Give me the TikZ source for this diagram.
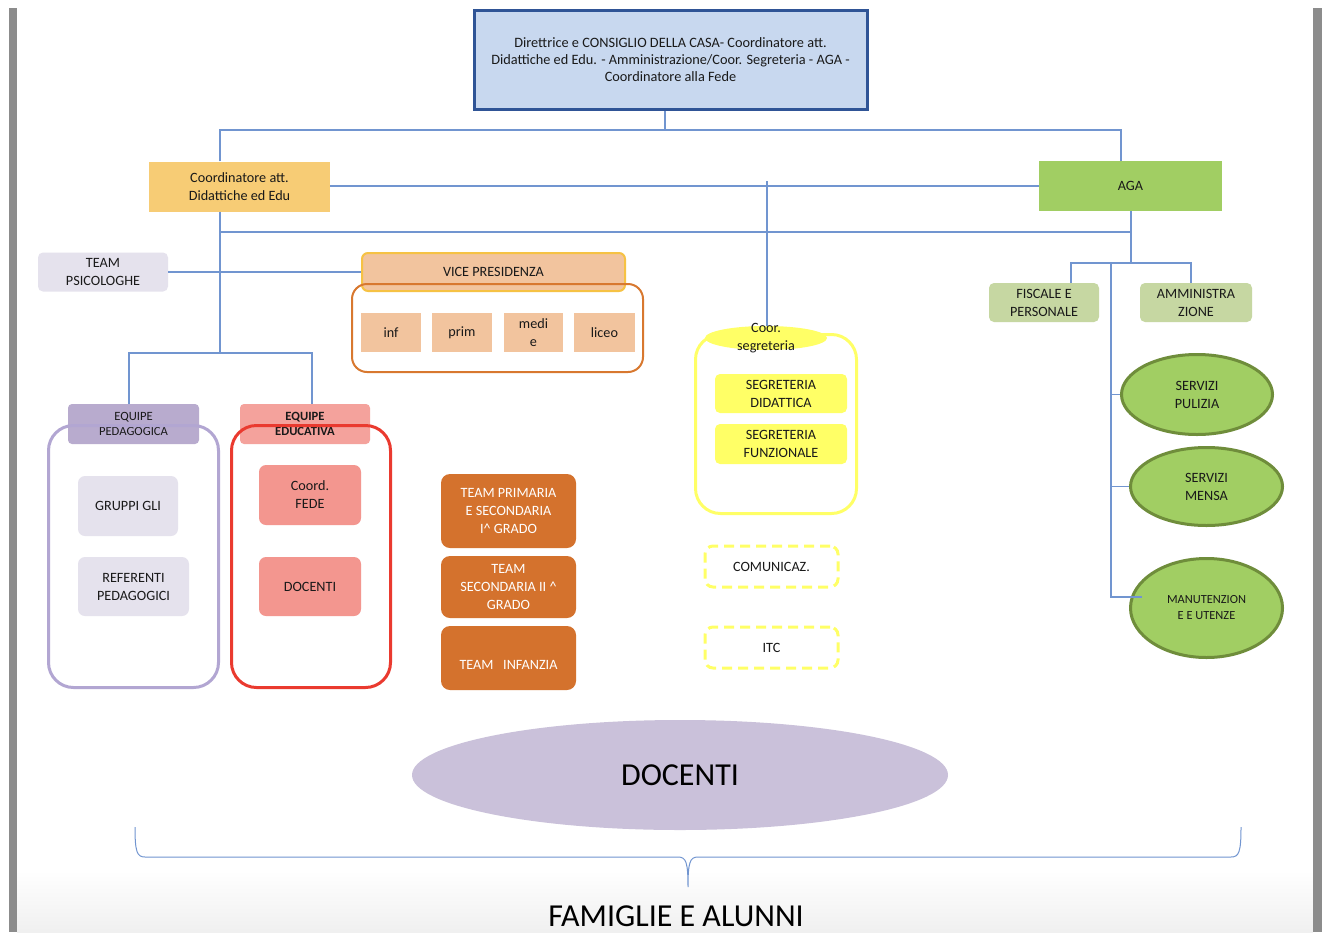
\documentclass[tikz,border=0pt]{standalone}
\usepackage{fontspec}
\setmainfont{Carlito}
\usetikzlibrary{shapes.geometric}
\definecolor{lineblue}{HTML}{7195D0}
\definecolor{topfill}{HTML}{C8D8EF}
\definecolor{topborder}{HTML}{2F5496}
\definecolor{coordc}{HTML}{F7CC75}
\definecolor{agac}{HTML}{A1CE63}
\definecolor{lav}{HTML}{E5E2ED}
\definecolor{peach}{HTML}{F2C49E}
\definecolor{goldb}{HTML}{F6C244}
\definecolor{orangeb}{HTML}{D8782F}
\definecolor{purphdr}{HTML}{B8ABCE}
\definecolor{purpb}{HTML}{B2A6D2}
\definecolor{salmhdr}{HTML}{F4A29C}
\definecolor{redb}{HTML}{EA3A2F}
\definecolor{salm}{HTML}{F3968F}
\definecolor{teamc}{HTML}{D4722D}
\definecolor{yel}{HTML}{FFFF66}
\definecolor{olivel}{HTML}{C6D7A2}
\definecolor{greenb}{HTML}{6F8D3B}
\definecolor{docc}{HTML}{CAC1DA}
\definecolor{pagegray}{HTML}{8C8C8C}
\tikzset{
  ln/.style={draw=lineblue, line width=1.3pt},
  lbl/.style={align=center, inner sep=0pt, font=\fontsize{14.2}{18}\selectfont, text=black!90},
  rbox/.style={lbl, rounded corners=5pt},
  hdr/.style={lbl, rounded corners=4pt, font=\fontsize{12.6}{15.5}\selectfont},
  frame/.style={rounded corners=25pt, line width=3pt},
  oval/.style={ellipse, lbl, fill=agac, draw=greenb, line width=3pt},
  dashbox/.style={lbl, draw=yel, line width=3pt, dash pattern=on 10pt off 6pt, rounded corners=8pt, minimum width=133pt, minimum height=41pt}
}
\begin{document}
\begin{tikzpicture}[x=1pt,y=-1pt]
\useasboundingbox (0,0) rectangle (1322,932);
\fill[white] (0,0) rectangle (1322,932);
\shade[top color=white, bottom color=black!6] (17,870) rectangle (1313,932);
\fill[pagegray] (9,8) rectangle (17,932);
\fill[pagegray] (1313,8) rectangle (1322,932);

% top
\node[lbl, fill=topfill, draw=topborder, line width=3pt, minimum width=393pt, minimum height=99pt, font=\fontsize{14.3}{17}\selectfont] (top) at (670.5,59.5)
 {Direttrice e CONSIGLIO DELLA CASA- Coordinatore att.\\Didattiche ed Edu. - Amministrazione/Coor. Segreteria - AGA -\\Coordinatore alla Fede};
\node[lbl, fill=coordc, minimum width=181pt, minimum height=50pt] (coord) at (239.5,186.5) {Coordinatore att.\\Didattiche ed Edu};
\node[lbl, fill=agac, minimum width=183pt, minimum height=50pt] (aga) at (1130.5,186) {AGA};

% team psicologhe and vice presidenza
\node[rbox, fill=lav, minimum width=130pt, minimum height=39pt] (psi) at (103,272) {TEAM\\PSICOLOGHE};
\node[rbox, fill=peach, draw=goldb, line width=2pt, rounded corners=6pt, minimum width=263pt, minimum height=38pt] (vice) at (493.5,272) {VICE PRESIDENZA};
\node[draw=orangeb, line width=2pt, rounded corners=15pt, minimum width=291pt, minimum height=88pt, inner sep=0pt] (vframe) at (497.5,328) {};
\node[lbl, fill=peach, minimum width=60pt, minimum height=39pt] (inf) at (391,332.5) {inf};
\node[lbl, fill=peach, minimum width=60pt, minimum height=39pt] (prim) at (462,332.5) {prim};
\node[lbl, fill=peach, minimum width=59pt, minimum height=39pt] (medi) at (533.5,332.5) {medi\\e};
\node[lbl, fill=peach, minimum width=61pt, minimum height=39pt] (liceo) at (604.5,332.5) {liceo};

% equipe pedagogica
\node[hdr, fill=purphdr, minimum width=131pt, minimum height=40pt] (eqped) at (133.5,424) {EQUIPE\\PEDAGOGICA};
\node[frame, draw=purpb, minimum width=170pt, minimum height=262pt, inner sep=0pt] (pedframe) at (133.5,556.5) {};
\node[rbox, fill=lav, rounded corners=7pt, minimum width=100pt, minimum height=60pt] (gli) at (128,506) {GRUPPI GLI};
\node[rbox, fill=lav, rounded corners=7pt, minimum width=111pt, minimum height=59pt] (ref) at (133.5,586.5) {REFERENTI\\PEDAGOGICI};

% equipe educativa
\node[hdr, fill=salmhdr, minimum width=130pt, minimum height=40pt, font=\fontsize{12.6}{15.5}\selectfont\bfseries] (eqedu) at (305,424) {EQUIPE\\EDUCATIVA};
\node[frame, draw=redb, minimum width=159pt, minimum height=262pt, inner sep=0pt] (eduframe) at (311,556.5) {};
\node[rbox, fill=salm, rounded corners=7pt, minimum width=102pt, minimum height=60pt] (fede) at (310,495) {Coord.\\FEDE};
\node[rbox, fill=salm, rounded corners=7pt, minimum width=102pt, minimum height=59pt] (doc) at (310,586.5) {DOCENTI};

% teams
\node[rbox, fill=teamc, text=white, rounded corners=9pt, minimum width=135pt, minimum height=74pt] (tp) at (508.5,511) {TEAM PRIMARIA\\E SECONDARIA\\I\^{} GRADO};
\node[rbox, fill=teamc, text=white, rounded corners=9pt, minimum width=135pt, minimum height=62pt] (ts) at (508.5,587) {TEAM\\SECONDARIA II \^{}\\GRADO};
\node[rbox, fill=teamc, rounded corners=9pt, minimum width=135pt, minimum height=64pt] (ti) at (508.5,658) {};
\node[lbl, text=white] (titxt) at ([yshift=-7pt]ti.center) {TEAM\ \ \ INFANZIA};

% segreteria
\node[frame, draw=yel, minimum width=161pt, minimum height=179pt, inner sep=0pt] (segframe) at (776,424) {};
\node[ellipse, fill=yel, minimum width=122pt, minimum height=24pt, inner sep=0pt] (coorseg) at (766,338) {};
\node[lbl] (coorsegtxt) at (coorseg) {Coor.\\segreteria};
\node[rbox, fill=yel, minimum width=132pt, minimum height=39pt] (segdid) at (781,393.5) {SEGRETERIA\\DIDATTICA};
\node[rbox, fill=yel, minimum width=132pt, minimum height=40pt] (segfun) at (781,444) {SEGRETERIA\\FUNZIONALE};
\node[dashbox] (comun) at (771.5,566.5) {COMUNICAZ.};
\node[dashbox] (itc) at (771.5,647.5) {ITC};

% AGA side
\node[rbox, fill=olivel, minimum width=110pt, minimum height=39pt] (fisc) at (1044,302.5) {FISCALE E\\PERSONALE};
\node[rbox, fill=olivel, minimum width=112pt, minimum height=39pt] (amm) at (1196,302.5) {AMMINISTRA\\ZIONE};
\node[oval, minimum width=151pt, minimum height=80pt] (pul) at (1197,394.5) {SERVIZI\\PULIZIA};
\node[oval, minimum width=152pt, minimum height=78pt] (mensa) at (1206.5,486.5) {SERVIZI\\MENSA};
\node[oval, minimum width=152pt, minimum height=99pt, font=\fontsize{12.4}{16}\selectfont] (manut) at (1206.5,608) {MANUTENZION\\E E UTENZE};

% docenti & famiglie
\node[ellipse, fill=docc, minimum width=536pt, minimum height=110pt, inner sep=0pt, font=\fontsize{32}{36}\selectfont] (docenti) at (680,775) {DOCENTI};
\node[anchor=base, inner sep=0pt, font=\fontsize{32}{36}\selectfont] (fam) at (676,926) {FAMIGLIE E ALUNNI};

% connectors
\coordinate (jt) at (665,130);
\coordinate (cL) at (220,130);
\coordinate (cR) at (1121,130);
\draw[ln] (jt |- top.south) -- (jt);
\draw[ln] (cL |- coord.north) -- (cL) -- (cR) -- (cR |- aga.north);
\draw[ln] (coord.east |- aga.west) -- (aga.west);
\coordinate (segtop) at (767,181);
\draw[ln] (segtop) -- (segtop |- coorseg.north);
\coordinate (eqj) at (220,353);
\coordinate (eqL) at (129,353);
\coordinate (eqR) at (312,353);
\draw[ln] (eqj |- coord.south) -- (eqj);
\draw[ln] (eqL |- eqped.north) -- (eqL) -- (eqR) -- (eqR |- eqedu.north);
\draw[ln] (psi.east) -- (vice.west);
\coordinate (hy) at (220,232);
\coordinate (ay) at (1131,232);
\coordinate (aj) at (1131,263);
\draw[ln] (hy) -- (ay);
\draw[ln] (ay |- aga.south) -- (aj);
\coordinate (fj) at (1071,263);
\coordinate (amj) at (1191,263);
\draw[ln] (fj |- fisc.north) -- (fj) -- (amj) -- (amj |- amm.north);
\coordinate (sv) at (1111,263);
\coordinate (manutin) at (1142,597);
\draw[ln] (sv) |- (pul.west);
\draw[ln] (sv) |- (mensa.west);
\draw[ln] (sv) |- (manutin);

% brace
\draw[draw=lineblue, line width=1pt] (135,827) .. controls (135,852) and (137,857) .. (145,857) -- (678,857)
  .. controls (686,857) and (688,862) .. (688,887) .. controls (688,862) and (690,857) .. (698,857) -- (1231,857)
  .. controls (1239,857) and (1241,852) .. (1241,827);
\end{tikzpicture}
\end{document}
